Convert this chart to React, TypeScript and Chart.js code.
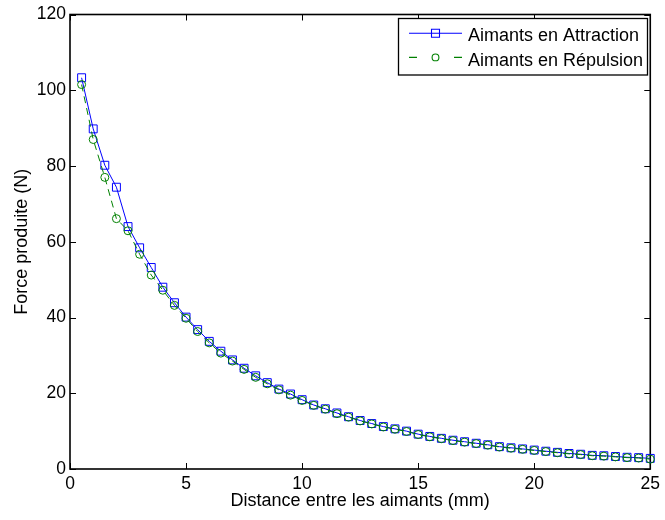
import { useEffect, useRef } from 'react';
import { Chart, registerables } from 'chart.js';

Chart.register(...registerables);

const distances = [
  0.5, 1, 1.5, 2, 2.5, 3, 3.5, 4, 4.5, 5,
  5.5, 6, 6.5, 7, 7.5, 8, 8.5, 9, 9.5, 10,
  10.5, 11, 11.5, 12, 12.5, 13, 13.5, 14, 14.5, 15,
  15.5, 16, 16.5, 17, 17.5, 18, 18.5, 19, 19.5, 20,
  20.5, 21, 21.5, 22, 22.5, 23, 23.5, 24, 24.5, 25,
];

const attraction = [
  103.3, 89.8, 80.2, 74.4, 64.0, 58.4, 53.2, 48.0, 43.9, 40.1,
  36.8, 33.7, 31.1, 28.8, 26.6, 24.6, 22.8, 21.1, 19.8, 18.3,
  16.9, 15.9, 14.8, 13.8, 12.8, 12.0, 11.2, 10.6, 10.0, 9.2,
  8.6, 8.1, 7.6, 7.2, 6.8, 6.4, 5.9, 5.6, 5.3, 5.0,
  4.7, 4.4, 4.1, 3.9, 3.6, 3.5, 3.3, 3.1, 3.0, 2.8,
];

const repulsion = [
  101.5, 87.0, 77.0, 66.1, 62.9, 56.7, 51.2, 47.2, 43.2, 39.8,
  36.3, 33.3, 30.6, 28.5, 26.3, 24.2, 22.5, 20.9, 19.5, 18.1,
  16.8, 15.8, 14.6, 13.7, 12.7, 11.9, 11.1, 10.5, 9.9, 9.1,
  8.5, 8.0, 7.5, 7.1, 6.7, 6.3, 5.8, 5.5, 5.2, 4.9,
  4.6, 4.3, 4.0, 3.8, 3.5, 3.4, 3.2, 3.0, 2.9, 2.6,
];

const seriesLabels = ['Aimants en Attraction', 'Aimants en Répulsion'];
const seriesColors = ['#0000ff', '#008000'];
const xTitle = 'Distance entre les aimants (mm)';
const yTitle = 'Force produite (N)';
const xRange = [0, 25];
const yRange = [0, 120];
const xStep = 5;
const yStep = 20;

const FONT = '"Liberation Sans", Arial, Helvetica, sans-serif';
const FS_TICK = 17.5;
const FS_TEXT = 18;

const framePlugin = {
  id: 'matlabFrame',
  beforeDatasetsDraw(chart: any) {
    const { ctx, chartArea, scales } = chart;
    const { left, top, right, bottom } = chartArea;
    const x = scales.x;
    const y = scales.y;
    ctx.save();
    ctx.strokeStyle = '#000';
    ctx.lineWidth = 1;
    const tl = 6;
    ctx.beginPath();
    x.ticks.forEach((t: any) => {
      const px = Math.round(x.getPixelForValue(t.value)) + 0.5;
      ctx.moveTo(px, bottom);
      ctx.lineTo(px, bottom - tl);
      ctx.moveTo(px, top);
      ctx.lineTo(px, top + tl);
    });
    y.ticks.forEach((t: any) => {
      const py = Math.round(y.getPixelForValue(t.value)) + 0.5;
      ctx.moveTo(left, py);
      ctx.lineTo(left + tl, py);
      ctx.moveTo(right, py);
      ctx.lineTo(right - tl, py);
    });
    ctx.stroke();
    ctx.lineWidth = 1.6;
    ctx.strokeRect(left, top, right - left, bottom - top);
    ctx.restore();
  },
};

const legendPlugin = {
  id: 'matlabLegend',
  afterDatasetsDraw(chart: any) {
    const { ctx } = chart;
    const bx = 398.5;
    const by = 18.5;
    const bw = 249;
    const bh = 56.5;
    ctx.save();
    ctx.setLineDash([]);
    ctx.fillStyle = '#fff';
    ctx.fillRect(bx, by, bw, bh);
    ctx.strokeStyle = '#000';
    ctx.lineWidth = 1.3;
    ctx.strokeRect(bx, by, bw, bh);

    const x0 = 409;
    const x1 = 462;
    const xm = 435.5;
    const rows = [33.2, 57.4];
    const textY = [36.5, 61];

    // row 1 : solid line with square
    ctx.lineWidth = 1.1;
    ctx.strokeStyle = seriesColors[0];
    ctx.beginPath();
    ctx.moveTo(x0, rows[0]);
    ctx.lineTo(x1, rows[0]);
    ctx.stroke();
    ctx.beginPath();
    ctx.rect(xm - 4, rows[0] - 4, 8, 8);
    ctx.stroke();

    // row 2 : dashed line with circle
    ctx.strokeStyle = seriesColors[1];
    ctx.beginPath();
    ctx.moveTo(x0, rows[1]);
    ctx.lineTo(x0 + 8, rows[1]);
    ctx.moveTo(x1 - 8, rows[1]);
    ctx.lineTo(x1, rows[1]);
    ctx.stroke();
    ctx.beginPath();
    ctx.arc(xm, rows[1], 3.4, 0, Math.PI * 2);
    ctx.stroke();

    ctx.fillStyle = '#000';
    ctx.font = `${FS_TEXT}px ${FONT}`;
    ctx.textAlign = 'left';
    ctx.textBaseline = 'middle';
    ctx.fillText(seriesLabels[0], 468, textY[0]);
    ctx.fillText(seriesLabels[1], 468, textY[1]);
    ctx.restore();
  },
};

export default function App() {
  const canvasRef = useRef<HTMLCanvasElement | null>(null);

  useEffect(() => {
    const canvas = canvasRef.current;
    if (!canvas) return;
    const chart = new Chart(canvas, {
      type: 'line',
      data: {
        datasets: [
          {
            label: seriesLabels[0],
            data: distances.map((d, i) => ({ x: d, y: attraction[i] })),
            borderColor: seriesColors[0],
            borderWidth: 1,
            pointStyle: 'rect',
            pointRadius: 5.6,
            pointBorderColor: seriesColors[0],
            pointBackgroundColor: 'rgba(0,0,0,0)',
            pointBorderWidth: 1,
            tension: 0,
            clip: false,
            order: 1,
          },
          {
            label: seriesLabels[1],
            data: distances.map((d, i) => ({ x: d, y: repulsion[i] })),
            borderColor: seriesColors[1],
            borderWidth: 1,
            borderDash: [7, 5],
            pointStyle: 'circle',
            pointRadius: 4,
            pointBorderColor: seriesColors[1],
            pointBackgroundColor: 'rgba(0,0,0,0)',
            pointBorderWidth: 1,
            tension: 0,
            clip: false,
            order: 0,
          },
        ],
      } as any,
      options: {
        responsive: false,
        animation: false,
        devicePixelRatio: 1,
        layout: { padding: { top: 10, right: 11.5, bottom: 0, left: 0 } },
        plugins: {
          legend: { display: false },
          tooltip: { enabled: false },
        },
        scales: {
          x: {
            type: 'linear',
            min: xRange[0],
            max: xRange[1],
            ticks: {
              stepSize: xStep,
              padding: 5,
              color: '#000',
              maxRotation: 0,
              font: { family: FONT, size: FS_TICK },
            },
            grid: { display: false, drawOnChartArea: false, drawTicks: false },
            border: { display: false },
            title: {
              display: true,
              text: xTitle,
              color: '#000',
              font: { family: FONT, size: FS_TEXT },
              padding: { top: 0, bottom: 8 },
            },
            afterFit(scale: any) {
              scale.height = 51;
            },
          },
          y: {
            type: 'linear',
            min: yRange[0],
            max: yRange[1],
            ticks: {
              stepSize: yStep,
              padding: 4,
              color: '#000',
              font: { family: FONT, size: FS_TICK },
            },
            grid: { display: false, drawOnChartArea: false, drawTicks: false },
            border: { display: false },
            title: {
              display: true,
              text: yTitle,
              color: '#000',
              font: { family: FONT, size: FS_TEXT },
              padding: { top: 11, bottom: 0 },
            },
            afterFit(scale: any) {
              scale.width = 70;
            },
          },
        },
      } as any,
      plugins: [framePlugin, legendPlugin],
    });
    return () => chart.destroy();
  }, []);

  return (
    <div style={{ position: 'absolute', left: 0, top: 0, width: 665, height: 520, background: '#fff' }}>
      <canvas ref={canvasRef} width={665} height={520} style={{ display: 'block' }} />
    </div>
  );
}
